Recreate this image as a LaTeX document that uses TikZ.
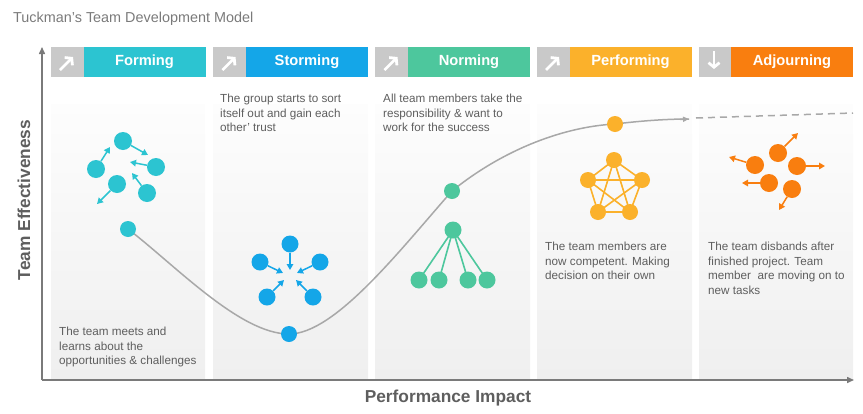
\documentclass[tikz,border=0pt]{standalone}
\usepackage{fontspec}
\setmainfont{Liberation Sans}
\usetikzlibrary{arrows.meta}

\definecolor{cF}{HTML}{2CC4D1}
\definecolor{cS}{HTML}{14A6E8}
\definecolor{cN}{HTML}{4DC79D}
\definecolor{cP}{HTML}{FBB12B}
\definecolor{cA}{HTML}{F97E0F}
\definecolor{tabgray}{HTML}{C9C9C9}
\definecolor{paneltop}{HTML}{FDFDFD}
\definecolor{panelbot}{HTML}{EFEFEF}
\definecolor{txt}{HTML}{5E5E5E}
\definecolor{titlec}{HTML}{7A7A7A}
\definecolor{axisc}{HTML}{7A7A7A}
\definecolor{curvec}{HTML}{A8A8A8}

\tikzset{
  tabbox/.style={fill=#1, text=white, minimum width=122, minimum height=30, inner sep=0,
    font=\bfseries\fontsize{14.7}{16}\selectfont},
  tabicon/.style={fill=tabgray, minimum width=33, minimum height=30, inner sep=0},
  tabarrow/.style={draw=white, line width=2.8pt, -{Straight Barb[length=4.5pt,width=11pt]}},
  panel/.style={top color=paneltop, bottom color=panelbot, draw=none},
  dot/.style 2 args={circle, fill=#1, minimum size=#2, inner sep=0},
  iarr/.style={draw=#1, line width=1.5pt, -{Triangle[length=6pt,width=6.5pt]}},
  link/.style={draw=#1, line width=1.6pt},
  desc/.style={anchor=north west, align=left, inner sep=0, text=txt,
    font=\fontsize{11.7}{14.5}\selectfont},
  axislabel/.style={text=txt, font=\bfseries\fontsize{17.3}{19}\selectfont, inner sep=0},
  axisline/.style={draw=axisc, line width=1.5pt, -{Triangle[length=7pt,width=6pt]}},
  curve/.style={draw=curvec, line width=1.5pt},
}

\begin{document}
\begin{tikzpicture}[x=1pt,y=-1pt]
\useasboundingbox (0,0) rectangle (863,413);

% title
\node[anchor=west, inner sep=0, text=titlec, font=\fontsize{14.4}{16}\selectfont] (title) at (13,19)
  {Tuckman’s Team Development Model};

% column panels
\shade[panel] (51,104) rectangle (205,378);
\shade[panel] (213,104) rectangle (368,378);
\shade[panel] (375,104) rectangle (530,378);
\shade[panel] (537,104) rectangle (692,378);
\shade[panel] (699,104) rectangle (853,378);

% header tabs
\node[tabicon] (iF) at (67,62) {};
\node[tabbox=cF] (tF) at (144.5,62) {Forming};
\node[tabicon] (iS) at (229.5,62) {};
\node[tabbox=cS] (tS) at (307,62) {Storming};
\node[tabicon] (iN) at (391.5,62) {};
\node[tabbox=cN] (tN) at (469,62) {Norming};
\node[tabicon] (iP) at (553,62) {};
\node[tabbox=cP] (tP) at (630.5,62) {Performing};
\node[tabicon] (iA) at (715,62) {};
\node[tabbox=cA] (tA) at (792,62) {Adjourning};

\draw[tabarrow] ([shift={(-7,8)}]iF.center) -- ([shift={(6,-5)}]iF.center);
\draw[tabarrow] ([shift={(-7,8)}]iS.center) -- ([shift={(6,-5)}]iS.center);
\draw[tabarrow] ([shift={(-7,8)}]iN.center) -- ([shift={(6,-5)}]iN.center);
\draw[tabarrow] ([shift={(-7,8)}]iP.center) -- ([shift={(6,-5)}]iP.center);
\draw[tabarrow] ([shift={(-1,-11)}]iA.center) -- ([shift={(-1,7)}]iA.center);

% axes
\coordinate (origin) at (42,380);
\coordinate (ytop) at (42,47);
\coordinate (xend) at (854,380);
\draw[axisline] (origin) -- (ytop);
\draw[axisline] (origin) -- (xend);
\node[axislabel, rotate=90] (ylab) at (24,200) {Team Effectiveness};
\node[axislabel] (xlab) at (448,398) {Performance Impact};

% development curve
\coordinate (pF) at (128,229);
\coordinate (pS) at (289,334);
\coordinate (pN) at (452,191);
\coordinate (pP) at (615,124);
\coordinate (pE) at (689,119);
\coordinate (pD) at (696,118);
\coordinate (pZ) at (853,113);
\draw[curve] (pF) .. controls (175,265) and (240,334) .. (pS)
  .. controls (335,334) and (400,250) .. (pN)
  .. controls (500,152) and (560,127) .. (pP)
  .. controls (640,121) and (665,119) .. (pE);
\draw[curve, -{Triangle[length=6pt,width=5pt]}] (680,119.4) -- (pE);
\draw[curve, dash pattern=on 7pt off 5pt] (pD) -- (pZ);
\node[dot={cF}{16}] (dF) at (pF) {};
\node[dot={cS}{16}] (dS) at (pS) {};
\node[dot={cN}{16}] (dN) at (pN) {};
\node[dot={cP}{16}] (dP) at (pP) {};

% forming: members scattered
\node[dot={cF}{18}] (f1) at (123,141) {};
\node[dot={cF}{18}] (f2) at (96,169) {};
\node[dot={cF}{18}] (f3) at (156,167) {};
\node[dot={cF}{18}] (f4) at (117,184) {};
\node[dot={cF}{18}] (f5) at (147,193) {};
\coordinate (ft1) at (148,155);
\coordinate (ft2) at (110,147);
\coordinate (ft3) at (130,162);
\coordinate (ft4) at (97,204);
\coordinate (ft5) at (132,173);
\draw[iarr=cF] (f1) -- (ft1);
\draw[iarr=cF] (f2) -- (ft2);
\draw[iarr=cF] (f3) -- (ft3);
\draw[iarr=cF] (f4) -- (ft4);
\draw[iarr=cF] (f5) -- (ft5);

% storming: members pushing inward
\node[dot={cS}{17}] (s1) at (290,244) {};
\node[dot={cS}{17}] (s2) at (260,262) {};
\node[dot={cS}{17}] (s3) at (320,262) {};
\node[dot={cS}{17}] (s4) at (267,297) {};
\node[dot={cS}{17}] (s5) at (313,297) {};
\coordinate (st1) at (290,270);
\coordinate (st2) at (283,273);
\coordinate (st3) at (297,273);
\coordinate (st4) at (284,280);
\coordinate (st5) at (296,280);
\draw[iarr=cS] (s1) -- (st1);
\draw[iarr=cS] (s2) -- (st2);
\draw[iarr=cS] (s3) -- (st3);
\draw[iarr=cS] (s4) -- (st4);
\draw[iarr=cS] (s5) -- (st5);

% norming: hierarchy
\coordinate (m0) at (453,230);
\coordinate (m1) at (419,280);
\coordinate (m2) at (439,280);
\coordinate (m3) at (468,280);
\coordinate (m4) at (487,280);
\draw[link=cN] (m0) -- (m1);
\draw[link=cN] (m0) -- (m2);
\draw[link=cN] (m0) -- (m3);
\draw[link=cN] (m0) -- (m4);
\node[dot={cN}{17}] (n0) at (m0) {};
\node[dot={cN}{17}] (n1) at (m1) {};
\node[dot={cN}{17}] (n2) at (m2) {};
\node[dot={cN}{17}] (n3) at (m3) {};
\node[dot={cN}{17}] (n4) at (m4) {};

% performing: fully connected pentagon
\coordinate (q1) at (614,160);
\coordinate (q2) at (642,180);
\coordinate (q3) at (630,212);
\coordinate (q4) at (598,212);
\coordinate (q5) at (588,180);
\foreach \a/\b in {q1/q2,q2/q3,q3/q4,q4/q5,q5/q1,q1/q3,q1/q4,q2/q4,q2/q5,q3/q5}
  \draw[link=cP] (\a) -- (\b);
\node[dot={cP}{16}] (p1) at (q1) {};
\node[dot={cP}{16}] (p2) at (q2) {};
\node[dot={cP}{16}] (p3) at (q3) {};
\node[dot={cP}{16}] (p4) at (q4) {};
\node[dot={cP}{16}] (p5) at (q5) {};

% adjourning: members moving apart
\node[dot={cA}{18}] (a1) at (778,153) {};
\node[dot={cA}{18}] (a2) at (755,165) {};
\node[dot={cA}{18}] (a3) at (797,166) {};
\node[dot={cA}{18}] (a4) at (769,183) {};
\node[dot={cA}{18}] (a5) at (792,189) {};
\coordinate (at1) at (798,133);
\coordinate (at2) at (729,157);
\coordinate (at3) at (825,166);
\coordinate (at4) at (742,183);
\coordinate (at5) at (779,210);
\draw[iarr=cA] (a1) -- (at1);
\draw[iarr=cA] (a2) -- (at2);
\draw[iarr=cA] (a3) -- (at3);
\draw[iarr=cA] (a4) -- (at4);
\draw[iarr=cA] (a5) -- (at5);

% stage descriptions
\node[desc] (xF) at (59,327) {The team meets and\\learns about the\\opportunities \& challenges};
\node[desc] (xS) at (220,94) {The group starts to sort\\itself out and gain each\\other’ trust};
\node[desc] (xN) at (383,94) {All team members take the\\responsibility \& want to\\work for the success};
\node[desc] (xP) at (545,242) {The team members are\\now competent. Making\\decision on their own};
\node[desc] (xA) at (708,242) {The team disbands after\\finished project. Team\\member\ \ are moving on to\\new tasks};
\end{tikzpicture}
\end{document}
